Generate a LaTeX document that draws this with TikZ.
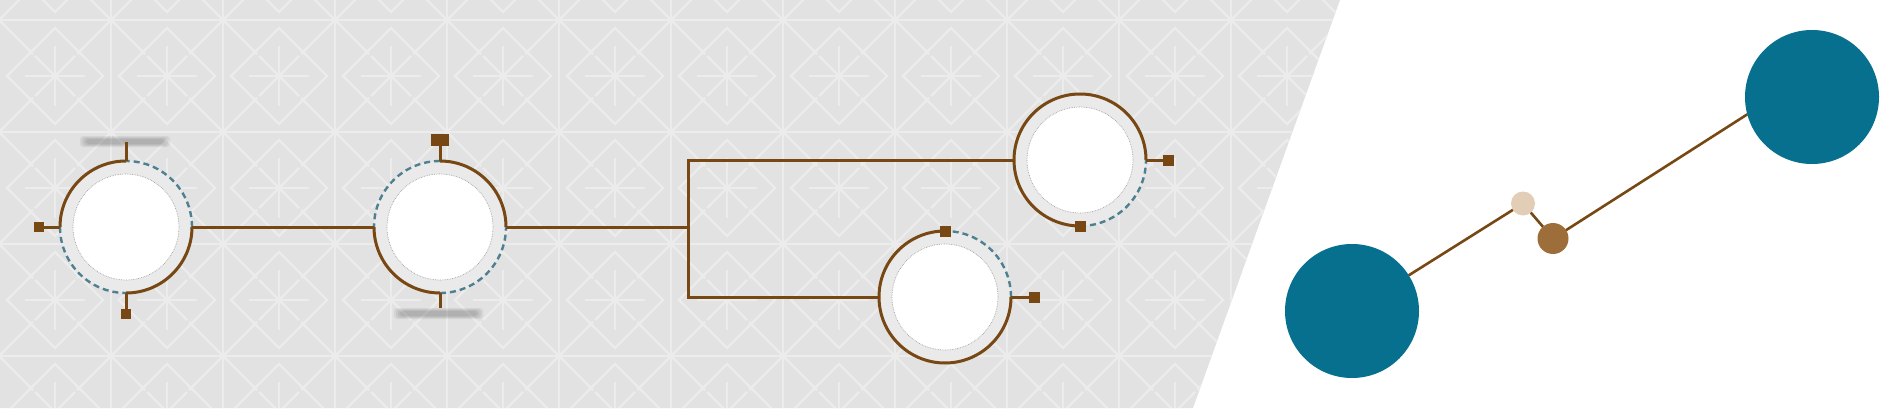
\documentclass[tikz,border=0pt]{standalone}
\definecolor{bgray}{RGB}{226,226,226}
\definecolor{pat}{RGB}{236,236,236}
\definecolor{ringgray}{RGB}{234,234,234}
\definecolor{brn}{RGB}{120,72,20}
\definecolor{dashblue}{RGB}{78,128,144}
\definecolor{tealc}{RGB}{7,112,143}
\definecolor{beigec}{RGB}{226,206,182}
\definecolor{midbrown}{RGB}{158,110,58}
\begin{document}
\begin{tikzpicture}[x=1pt,y=1pt,
  ringnode/.style={circle,minimum size=132pt,inner sep=0pt,outer sep=0pt,fill=ringgray},
  whitedisc/.style={circle,minimum size=106pt,inner sep=0pt,outer sep=0pt,fill=white,draw=gray!75,densely dotted,line width=0.7pt},
  brownarc/.style={draw=brn,line width=3pt},
  bluearc/.style={draw=dashblue,line width=2.4pt,dash pattern=on 6pt off 4pt},
  wire/.style={draw=brn,line width=3pt},
  pin/.style={fill=brn,inner sep=0pt,outer sep=0pt,minimum size=11pt},
  dot/.style={circle,inner sep=0pt,outer sep=0pt},
  link/.style={draw=brn,line width=2.6pt},
  patline/.style={draw=pat,line width=2.2pt},
  shadowbar/.style={fill=black,opacity=0.06,rounded corners=3pt}
]
\useasboundingbox (0,0) rectangle (1899,408);
\fill[white] (0,0) rectangle (1899,408);
\fill[bgray] (0,0) -- (1193,0) -- (1340,408) -- (0,408) -- cycle;
% background pattern
\begin{scope}
\clip (0,0) -- (1193,0) -- (1340,408) -- (0,408) -- cycle;
\foreach \i in {0,...,12} {
  \foreach \j in {0,...,4} {
    \begin{scope}[shift={(\i*112-1,\j*112-60)}]
      \draw[patline] (0,0) rectangle (112,112);
      \draw[patline] (56,8) -- (104,56) -- (56,104) -- (8,56) -- cycle;
      \draw[patline] (56,56) -- (56,86) (56,56) -- (56,26) (56,56) -- (86,56) (56,56) -- (26,56);
      \draw[patline] (0,0) -- (34,34) (112,0) -- (78,34) (0,112) -- (34,78) (112,112) -- (78,78);
      \draw[patline] (56,56) -- (76,76) (56,56) -- (36,76) (56,56) -- (76,36) (56,56) -- (36,36);
    \end{scope}
  }
}
\end{scope}

% shadows of label areas
\foreach \k in {0,2,4,6} {
  \fill[shadowbar] (80+\k,261+\k/2) rectangle (170-\k,272-\k/2);
  \fill[shadowbar] (394+\k,89+\k/2) rectangle (483-\k,100-\k/2);
}

% circle 1
\node[ringnode] (c1) at (126,181) {};
\node[whitedisc] (w1) at (c1) {};
\draw[brownarc] (c1.north) arc[start angle=90,end angle=180,radius=66];
\draw[brownarc] (c1.south) arc[start angle=270,end angle=360,radius=66];
\draw[bluearc] (c1.east) arc[start angle=0,end angle=90,radius=66];
\draw[bluearc] (c1.west) arc[start angle=180,end angle=270,radius=66];
\node[pin,minimum size=10pt] (p1l) at (38.5,181) {};
\node[pin,minimum size=10pt] (p1b) at (126,94) {};
\coordinate (t1) at (126,266);
\draw[wire] (c1.west) -- (p1l.east);
\draw[wire] (c1.south) -- (p1b.north);
\draw[wire] (c1.north) -- (t1);

% circle 2
\node[ringnode] (c2) at (440,181) {};
\node[whitedisc] (w2) at (c2) {};
\draw[brownarc] (c2.east) arc[start angle=0,end angle=90,radius=66];
\draw[brownarc] (c2.west) arc[start angle=180,end angle=270,radius=66];
\draw[bluearc] (c2.north) arc[start angle=90,end angle=180,radius=66];
\draw[bluearc] (c2.south) arc[start angle=270,end angle=360,radius=66];
\node[pin,minimum width=18pt,minimum height=12pt] (p2t) at (440,268) {};
\coordinate (t2) at (440,100);
\draw[wire] (c2.north) -- (p2t.south);
\draw[wire] (c2.south) -- (t2);

% circle 3
\node[ringnode] (c3) at (1080,248) {};
\node[whitedisc] (w3) at (c3) {};
\draw[brownarc] (c3.east) arc[start angle=0,end angle=270,radius=66];
\draw[bluearc] (c3.south) arc[start angle=270,end angle=360,radius=66];
\node[pin] (p3b) at (c3.south) {};
\node[pin] (p3r) at (1168,248) {};
\draw[wire] (c3.east) -- (p3r.west);

% circle 4
\node[ringnode] (c4) at (945,111) {};
\node[whitedisc] (w4) at (c4) {};
\draw[brownarc] (c4.north) arc[start angle=90,end angle=360,radius=66];
\draw[bluearc] (c4.east) arc[start angle=0,end angle=90,radius=66];
\node[pin] (p4t) at (c4.north) {};
\node[pin] (p4r) at (1034,111) {};
\draw[wire] (c4.east) -- (p4r.west);

% connectors
\coordinate (br) at (688,181);
\draw[wire] (c1.east) -- (c2.west);
\draw[wire] (c2.east) -- (br);
\draw[wire] (c3.west) -| (br) |- (c4.west);

% right panel
\node[dot,fill=tealc,minimum size=134pt] (b1) at (1352,97) {};
\node[dot,fill=tealc,minimum size=134pt] (b2) at (1812,311) {};
\node[dot,fill=beigec,minimum size=24pt] (s1) at (1523,204.5) {};
\node[dot,fill=midbrown,minimum size=31pt] (s2) at (1553,169.5) {};
\draw[link] (b1) -- (s1);
\draw[link] (s1) -- (s2);
\draw[link] (s2) -- (b2.195);
\end{tikzpicture}
\end{document}
